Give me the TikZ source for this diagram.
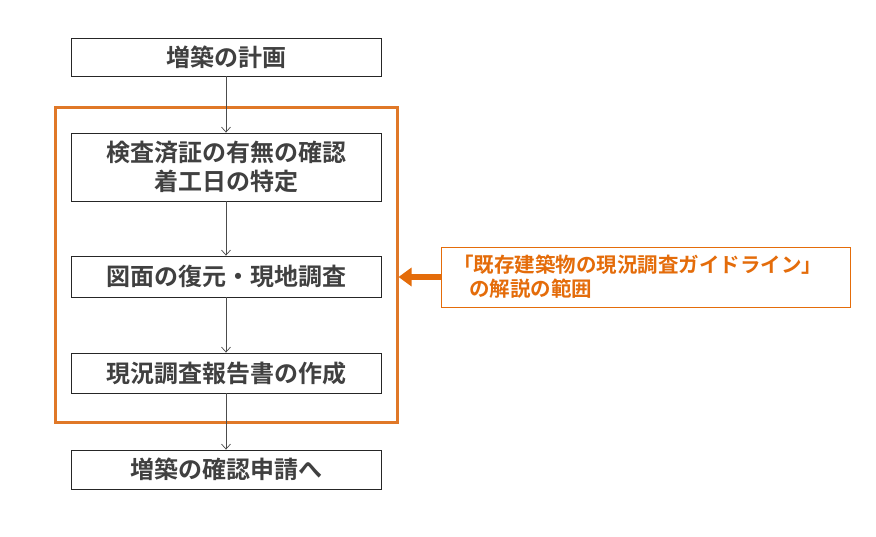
\documentclass[tikz,border=0pt]{standalone}
\usepackage{fontspec}
\newfontfamily\jp{Noto Sans CJK JP Bold}
\usetikzlibrary{arrows.meta}
\definecolor{txt}{RGB}{64,64,64}
\definecolor{org}{RGB}{228,108,10}
\definecolor{frm}{RGB}{224,120,40}
\begin{document}
\begin{tikzpicture}[x=1bp,y=-1bp,
  stepbox/.style={draw=black!85,line width=0.8bp,minimum width=310bp,inner sep=0pt,fill=white,
    font=\jp\fontsize{24bp}{29bp}\selectfont,text=txt,align=center},
  link/.style={draw=black!70,line width=0.7bp,-{Straight Barb[length=5bp,width=9bp,line width=0.7bp]}}]
\useasboundingbox (0,0) rectangle (876,537);
\fill[white] (0,0) rectangle (876,537);
\node[draw=frm,line width=3bp,minimum width=341bp,minimum height=314bp,inner sep=0pt] (frame) at (226.5,265) {};
\node[stepbox,minimum height=38bp] (b1) at (226,57) {増築の計画};
\node[stepbox,minimum height=68bp] (b2) at (226,167) {検査済証の有無の確認\\着工日の特定};
\node[stepbox,minimum height=41bp] (b3) at (226,276.5) {図面の復元・現地調査};
\node[stepbox,minimum height=40bp] (b4) at (226,373) {現況調査報告書の作成};
\node[stepbox,minimum height=39bp] (b5) at (226,469.5) {増築の確認申請へ};
\draw[link] (b1) -- (b2);
\draw[link] (b2) -- (b3);
\draw[link] (b3) -- (b4);
\draw[link] (b4) -- (b5);
\node[draw=org,line width=0.8bp,minimum width=409bp,minimum height=60bp,inner sep=0pt] (note) at (645.5,277) {};
\node[anchor=west,text=org,font=\jp\fontsize{20.5bp}{25bp}\selectfont,inner sep=0pt] (n1) at (453,265) {「既存建築物の現況調査ガイドライン」};
\node[anchor=west,text=org,font=\jp\fontsize{20.5bp}{25bp}\selectfont,inner sep=0pt] (n2) at (469,289) {の解説の範囲};
\coordinate (tip) at (note.west -| frame.east);
\draw[draw=org,line width=6bp,-{Triangle[length=13bp,width=18bp]}] (note.west) -- (tip);
\end{tikzpicture}
\end{document}
